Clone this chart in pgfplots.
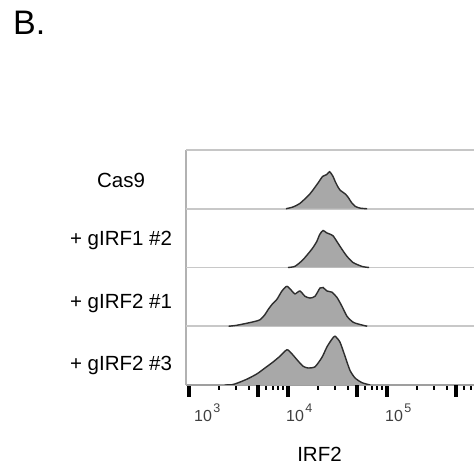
\documentclass[border=0pt]{standalone}
\usepackage{pgfplots}
\pgfplotsset{compat=1.18}
\usepackage{pgfplotstable}
\usepackage{fontspec}
\setmainfont{Liberation Sans}

% x = log10(IRF2 intensity), h = height within the panel (0..1)
\pgfplotstableread{
L h
3.98 0.000
4.05 0.03
4.12 0.09
4.22 0.25
4.30 0.43
4.35 0.55
4.39 0.58
4.42 0.63
4.455 0.55
4.475 0.47
4.505 0.37
4.53 0.31
4.556 0.28
4.58 0.25
4.61 0.19
4.64 0.11
4.68 0.04
4.73 0.01
4.80 0.000
}\casnine

\pgfplotstableread{
L h
4.00 0.000
4.07 0.02
4.15 0.13
4.24 0.31
4.29 0.44
4.32 0.56
4.354 0.63
4.39 0.59
4.42 0.57
4.455 0.54
4.495 0.44
4.545 0.31
4.596 0.19
4.657 0.085
4.75 0.017
4.82 0.000
}\girfonetwo

\pgfplotstableread{
L h
3.40 0.000
3.485 0.017
3.636 0.07
3.717 0.11
3.768 0.20
3.798 0.28
3.838 0.37
3.889 0.46
3.939 0.60
3.990 0.68
4.040 0.60
4.071 0.55
4.121 0.60
4.172 0.51
4.222 0.48
4.273 0.51
4.323 0.65
4.354 0.66
4.394 0.60
4.444 0.58
4.495 0.49
4.545 0.34
4.596 0.17
4.657 0.07
4.727 0.03
4.80 0.000
}\girftwoone

\pgfplotstableread{
L h
3.36 0.000
3.434 0.005
3.485 0.03
3.586 0.10
3.687 0.19
3.768 0.29
3.848 0.39
3.919 0.49
3.990 0.60
4.040 0.53
4.091 0.43
4.152 0.32
4.202 0.29
4.273 0.31
4.343 0.47
4.394 0.65
4.444 0.78
4.475 0.83
4.525 0.73
4.576 0.49
4.626 0.25
4.677 0.12
4.747 0.04
4.83 0.000
}\girftwothree

\definecolor{histfill}{HTML}{A8A8A8}
\definecolor{histline}{HTML}{2E2E2E}
\definecolor{sepline}{HTML}{C8C8C8}

% decade tick label, 10 with a raised exponent (text mode, main font)
\newcommand{\dec}[1]{\mbox{\fontsize{16}{16}\selectfont 10\hspace{1.5pt}\raisebox{9pt}{\fontsize{12.5}{12.5}\selectfont #1}}}

\begin{document}
\begin{tikzpicture}
\useasboundingbox (0,0) rectangle (474pt,473pt);
\begin{axis}[
  at={(186pt,88pt)}, anchor=south west,
  scale only axis,
  width=300pt, height=235pt,
  xmin=2.97, xmax=6.0, ymin=0, ymax=4,
  axis x line*=bottom, axis y line*=left,
  x axis line style={gray!75, line width=1.3pt},
  y axis line style={gray!60, line width=2pt},
  ytick=\empty,
  xtick={3,4,5},
  xticklabels={\hspace*{7pt}\dec{3}, \dec{4}, \dec{5}},
  xticklabel style={anchor=north west, inner sep=0pt, xshift=-2pt, yshift=-7pt,
    text=black!75},
  extra x ticks={3.699,4.699,5.699},
  extra x tick labels={},
  minor xtick={3.301,3.477,3.602,3.778,3.845,3.903,3.954,
               4.301,4.477,4.602,4.778,4.845,4.903,4.954,
               5.301,5.477,5.602,5.778,5.845,5.903,5.954},
  tick align=outside,
  major tick length=12pt, minor tick length=5pt,
  every major tick/.append style={line width=4pt, black},
  every minor tick/.append style={line width=2pt, black},
  hist/.style={smooth, tension=0.4, fill=histfill, draw=histline, line width=1.4pt},
]
\addplot[sepline, line width=1.6pt] coordinates {(2.97,1) (6,1)};
\addplot[sepline, line width=1.6pt] coordinates {(2.97,2) (6,2)};
\addplot[sepline, line width=1.6pt] coordinates {(2.97,3) (6,3)};
\addplot[gray!45, line width=1.6pt] coordinates {(2.97,4) (6,4)};

\addplot[hist] table[x=L, y expr=\thisrow{h}+3] {\casnine};
\addplot[hist] table[x=L, y expr=\thisrow{h}+2] {\girfonetwo};
\addplot[hist] table[x=L, y expr=\thisrow{h}+1] {\girftwoone};
\addplot[hist] table[x=L, y expr=\thisrow{h}] {\girftwothree};
\end{axis}

\begin{scope}[every node/.style={inner sep=0pt, font=\fontsize{20.5}{20.5}\selectfont}]
\node[anchor=base] at (121pt,285pt) {Cas9};
\node[anchor=base] at (121pt,227pt) {+ gIRF1 \#2};
\node[anchor=base] at (121pt,164pt) {+ gIRF2 \#1};
\node[anchor=base] at (121pt,102pt) {+ gIRF2 \#3};
\node[anchor=base] at (319.5pt,11pt) {IRF2};
\end{scope}
\node[anchor=base west, inner sep=0pt, font=\fontsize{34}{34}\selectfont] at (13pt,438pt) {B.};
\end{tikzpicture}
\end{document}
